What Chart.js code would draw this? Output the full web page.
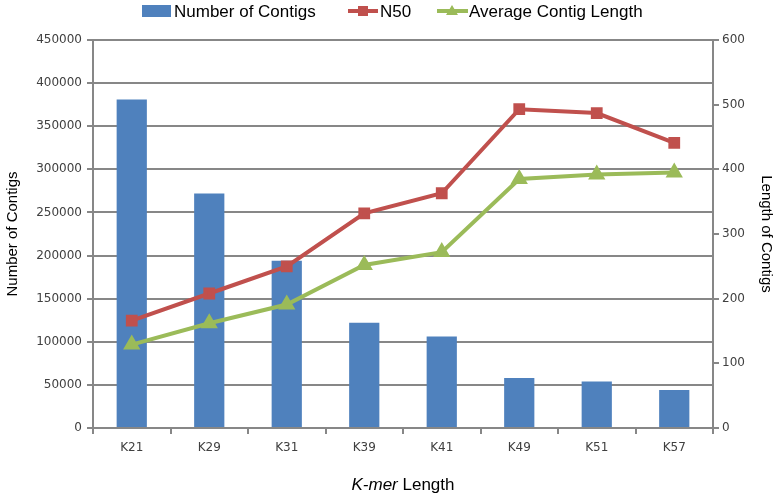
<!DOCTYPE html>
<html>
<head>
<meta charset="utf-8">
<script src="https://cdn.jsdelivr.net/npm/chart.js@4.4.1/dist/chart.umd.min.js"></script>
<style>
  html, body { margin: 0; padding: 0; background: #fff; }
  #wrap { width: 779px; height: 498px; position: relative; }
</style>
</head>
<body>
<div id="wrap"><canvas id="kmer-chart"></canvas></div>
<script>
// K-mer assembly stats
const kmers = ['K21', 'K29', 'K31', 'K39', 'K41', 'K49', 'K51', 'K57'];
const contigCounts = [381000, 272000, 194000, 122000, 106000, 58000, 54000, 44000];
const n50 = [166, 208, 250, 332, 363, 493, 487, 441];
const avgLength = [129, 162, 191, 252, 272, 385, 392, 395];
const leftTicks = [0, 50000, 100000, 150000, 200000, 250000, 300000, 350000, 400000, 450000];
const rightTicks = [0, 100, 200, 300, 400, 500, 600];

const colors = {
  bar: '#4F81BD',
  n50: '#C0504D',
  avg: '#9BBB59',
  grid: '#878787',
  text: '#404040'
};

// legend drawn by hand so the line series show line + marker like the original
const legendPlugin = {
  id: 'manualLegend',
  afterDraw(chart) {
    const ctx = chart.ctx;
    const y = 11;
    ctx.save();
    ctx.font = '17px "Liberation Sans", Arial, sans-serif';
    ctx.textBaseline = 'middle';

    ctx.fillStyle = colors.bar;
    ctx.fillRect(142, y - 6, 29, 12);
    ctx.fillStyle = '#000';
    ctx.fillText('Number of Contigs', 174, y + 1);

    ctx.strokeStyle = colors.n50;
    ctx.lineWidth = 4;
    ctx.beginPath(); ctx.moveTo(348, y); ctx.lineTo(378, y); ctx.stroke();
    ctx.fillStyle = colors.n50;
    ctx.fillRect(358, y - 5, 10, 10);
    ctx.fillStyle = '#000';
    ctx.fillText('N50', 380, y + 1);

    ctx.strokeStyle = colors.avg;
    ctx.beginPath(); ctx.moveTo(437, y); ctx.lineTo(468, y); ctx.stroke();
    ctx.fillStyle = colors.avg;
    ctx.beginPath();
    ctx.moveTo(452, y - 6); ctx.lineTo(458, y + 4); ctx.lineTo(446, y + 4);
    ctx.closePath(); ctx.fill();
    ctx.fillStyle = '#000';
    ctx.fillText('Average Contig Length', 469, y + 1);
    ctx.restore();
  }
};

// x axis title with italic "K-mer"
const xTitlePlugin = {
  id: 'xTitle',
  afterDraw(chart) {
    const ctx = chart.ctx;
    const area = chart.chartArea;
    const italic = 'italic 17px "Liberation Sans", Arial, sans-serif';
    const normal = '17px "Liberation Sans", Arial, sans-serif';
    ctx.save();
    ctx.textBaseline = 'middle';
    ctx.fillStyle = '#000';
    ctx.font = italic;
    const w1 = ctx.measureText('K-mer').width;
    ctx.font = normal;
    const w2 = ctx.measureText(' Length').width;
    const x = (area.left + area.right) / 2 - (w1 + w2) / 2;
    const y = 485;
    ctx.font = italic;
    ctx.fillText('K-mer', x, y);
    ctx.font = normal;
    ctx.fillText(' Length', x + w1, y);
    ctx.restore();
  }
};

function initChart() {
  const ctx = document.getElementById('kmer-chart');
  const tickFont = { family: '"DejaVu Sans", Verdana, sans-serif', size: 12 };
  const titleFont = { family: '"Liberation Sans", Arial, sans-serif', size: 15 };
  const plain = function(value) { return String(value); };

  return new Chart(ctx, {
    type: 'bar',
    data: {
      labels: kmers,
      datasets: [
        {
          label: 'N50',
          type: 'line',
          data: n50,
          yAxisID: 'y1',
          borderColor: colors.n50,
          backgroundColor: colors.n50,
          borderWidth: 4,
          pointStyle: 'rect',
          pointRadius: 5.5,
          pointHoverRadius: 5.5,
          tension: 0,
          order: 1
        },
        {
          label: 'Average Contig Length',
          type: 'line',
          data: avgLength,
          yAxisID: 'y1',
          borderColor: colors.avg,
          backgroundColor: colors.avg,
          borderWidth: 4,
          pointStyle: 'triangle',
          pointRadius: 6,
          pointHoverRadius: 6,
          tension: 0,
          order: 2
        },
        {
          label: 'Number of Contigs',
          data: contigCounts,
          yAxisID: 'y',
          backgroundColor: colors.bar,
          barPercentage: 0.39,
          categoryPercentage: 1,
          order: 3
        }
      ]
    },
    options: {
      responsive: true,
      maintainAspectRatio: false,
      animation: false,
      layout: { padding: { top: 40, left: 4, right: 4, bottom: 0 } },
      plugins: {
        legend: { display: false },
        tooltip: { enabled: false }
      },
      scales: {
        x: {
          offset: true,
          grid: { offset: true, drawOnChartArea: false, tickLength: 6, color: colors.grid, lineWidth: 2 },
          border: { color: colors.grid, width: 2 },
          ticks: { font: tickFont, color: colors.text, padding: 7, maxRotation: 0 },
          afterFit(scale) { scale.height = 70; }
        },
        y: {
          position: 'left',
          min: 0,
          max: 450000,
          afterBuildTicks(scale) { scale.ticks = leftTicks.map(v => ({ value: v })); },
          grid: { color: colors.grid, lineWidth: 2, tickLength: 6 },
          border: { color: colors.grid, width: 2 },
          ticks: { font: tickFont, color: colors.text, padding: 5, callback: plain },
          title: { display: true, text: 'Number of Contigs', font: titleFont, color: '#000', padding: 0 },
          afterFit(scale) { scale.width = 89; }
        },
        y1: {
          position: 'right',
          min: 0,
          max: 600,
          afterBuildTicks(scale) { scale.ticks = rightTicks.map(v => ({ value: v })); },
          grid: { drawOnChartArea: false, color: colors.grid, lineWidth: 2, tickLength: 6 },
          border: { color: colors.grid, width: 2 },
          ticks: { font: tickFont, color: colors.text, padding: 3, callback: plain },
          title: { display: true, text: 'Length of Contigs', font: titleFont, color: '#000', padding: 0 },
          afterFit(scale) { scale.width = 62; }
        }
      }
    },
    plugins: [legendPlugin, xTitlePlugin]
  });
}

initChart();
</script>
</body>
</html>
